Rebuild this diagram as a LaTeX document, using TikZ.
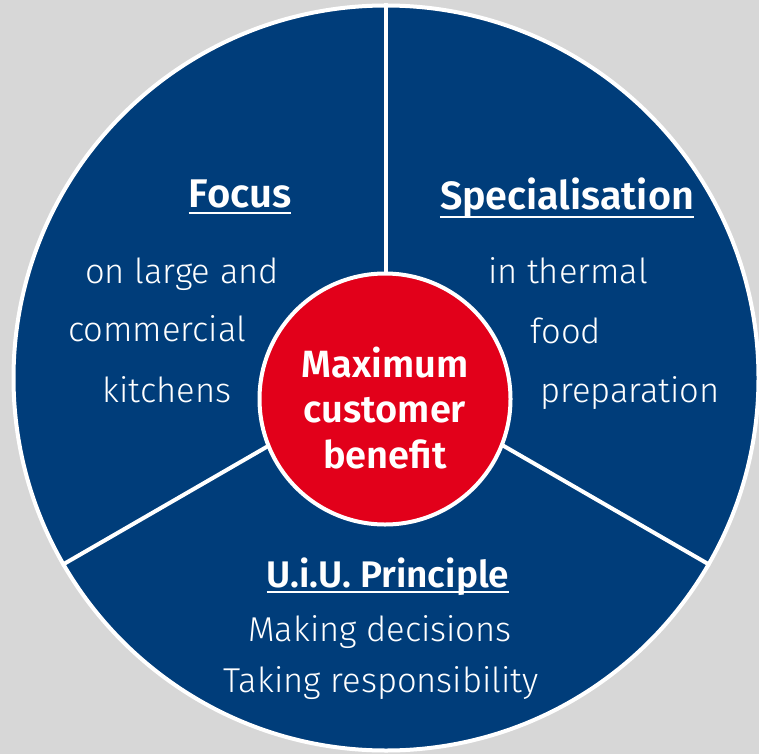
\documentclass[tikz,border=0pt]{standalone}
\usepackage{fontspec}
\setmainfont{Fira Sans}[UprightFont=* Light, BoldFont=* SemiBold]
\definecolor{navy}{RGB}{0,61,122}
\definecolor{hubred}{RGB}{226,0,26}
\definecolor{bggray}{RGB}{215,215,215}
\tikzset{
  edge/.style={draw=white, line width=4pt},
  body/.style={text=white, font=\fontsize{34.5}{40}\selectfont, anchor=base, inner sep=0pt},
  head/.style={text=white, font=\fontsize{#1}{40}\selectfont\bfseries, anchor=base, inner sep=0pt},
  uline/.style={draw=white, line width=2pt},
  hubtext/.style={text=white, font=\fontsize{38}{45.5}\selectfont\bfseries, align=center},
}
\begin{document}
\begin{tikzpicture}[x=1pt,y=-1pt]
\fill[bggray] (0,0) rectangle (759,754);
\useasboundingbox (0,0) rectangle (759,754);
\node[circle, fill=navy, edge, minimum size=745pt, inner sep=0pt] (disc) at (386,378) {};
\coordinate (hub) at (386,378);
\draw[edge] (hub) -- (disc.90);
\draw[edge] (hub) -- (disc.210);
\draw[edge] (hub) -- (disc.330);
\node[circle, fill=hubred, edge, minimum size=251pt, inner sep=0pt] (core) at (385,399) {};
\node[hubtext] (coretext) at (385,408) {Maximum\\customer\\benefit};
% Focus
\node[head=40] (focus) at (240,207) {Focus};
\draw[uline] ([yshift=-6pt]focus.base west) -- ([yshift=-6pt]focus.base east);
\node[body] (f1) at (182,283) {on large and};
\node[body] (f2) at (157,341) {commercial};
\node[body] (f3) at (167,402) {kitchens};
% Specialisation
\node[head=39.5] (spec) at (567,209) {Specialisation};
\draw[uline] ([yshift=-8pt]spec.base west) -- ([yshift=-8pt]spec.base east);
\node[body] (s1) at (568,283) {in thermal};
\node[body] (s2) at (566,343) {food};
\node[body] (s3) at (630,402) {preparation};
% U.i.U.
\node[head=37] (uiu) at (388,587) {U.i.U. Principle};
\draw[uline] ([yshift=-5pt]uiu.base west) -- ([yshift=-5pt]uiu.base east);
\node[body] (u1) at (380,641) {Making decisions};
\node[body] (u2) at (381,692) {Taking responsibility};
\end{tikzpicture}
\end{document}
